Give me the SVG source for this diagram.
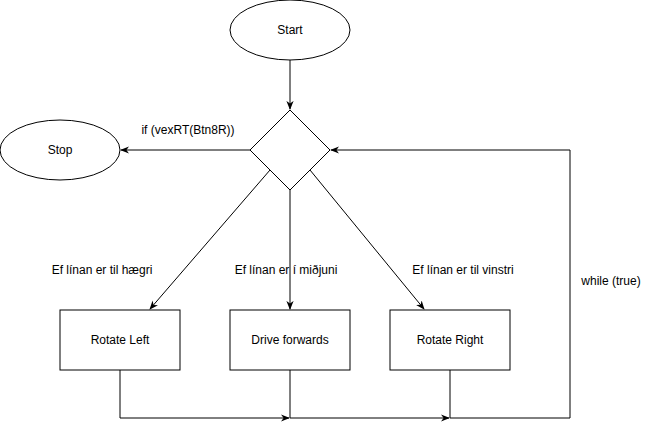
<svg xmlns="http://www.w3.org/2000/svg" width="651" height="429" viewBox="0 0 651 429">
<style>
.shape{fill:#fff;stroke:#000;stroke-width:1}
.t{font-family:"Liberation Sans",Arial,sans-serif;font-size:12px;fill:#000;text-anchor:middle;dominant-baseline:central}
.e{fill:none;stroke:#000;stroke-width:1}
</style>
<defs>
<marker id="arr" viewBox="0 0 10 8" refX="9" refY="4" markerWidth="9" markerHeight="7.5" markerUnits="userSpaceOnUse" orient="auto">
<path d="M0,0 L10,4 L0,8 L3,4 Z" fill="#000"/>
</marker>
</defs>
<rect width="651" height="429" fill="#fff"/>
<g id="connectors">
<path class="e" d="M290,60 L290,109" marker-end="url(#arr)"/>
<path class="e" d="M250,150 L121,150" marker-end="url(#arr)"/>
<path class="e" d="M270,170 L150,309" marker-end="url(#arr)"/>
<path class="e" d="M290,190 L290,309" marker-end="url(#arr)"/>
<path class="e" d="M310,170 L424,309" marker-end="url(#arr)"/>
<path class="e" d="M120,370 L120,418 L289,418" marker-end="url(#arr)"/>
<path class="e" d="M290,370 L290,418 L449,418" marker-end="url(#arr)"/>
<path class="e" d="M450,370 L450,418 L570,418 L570,150 L331,150" marker-end="url(#arr)"/>
<text class="t" x="188" y="130">if (vexRT(Btn8R))</text>
<text class="t" x="102" y="270">Ef línan er til hægri</text>
<text class="t" x="286" y="270">Ef línan er í miðjuni</text>
<text class="t" x="463" y="270">Ef línan er til vinstri</text>
<text class="t" x="611" y="281">while (true)</text>
</g>
<g id="start"><ellipse class="shape" cx="290" cy="30" rx="60" ry="30"/><text class="t" x="290" y="30">Start</text></g>
<g id="decision"><path class="shape" d="M290,110 L330,150 L290,190 L250,150 Z"/></g>
<g id="stop"><ellipse class="shape" cx="60" cy="150" rx="60" ry="30"/><text class="t" x="60" y="150">Stop</text></g>
<g id="rotate-left"><rect class="shape" x="60" y="310" width="120" height="60"/><text class="t" x="120" y="340">Rotate Left</text></g>
<g id="drive-forwards"><rect class="shape" x="230" y="310" width="120" height="60"/><text class="t" x="290" y="340">Drive forwards</text></g>
<g id="rotate-right"><rect class="shape" x="390" y="310" width="120" height="60"/><text class="t" x="450" y="340">Rotate Right</text></g>
</svg>
